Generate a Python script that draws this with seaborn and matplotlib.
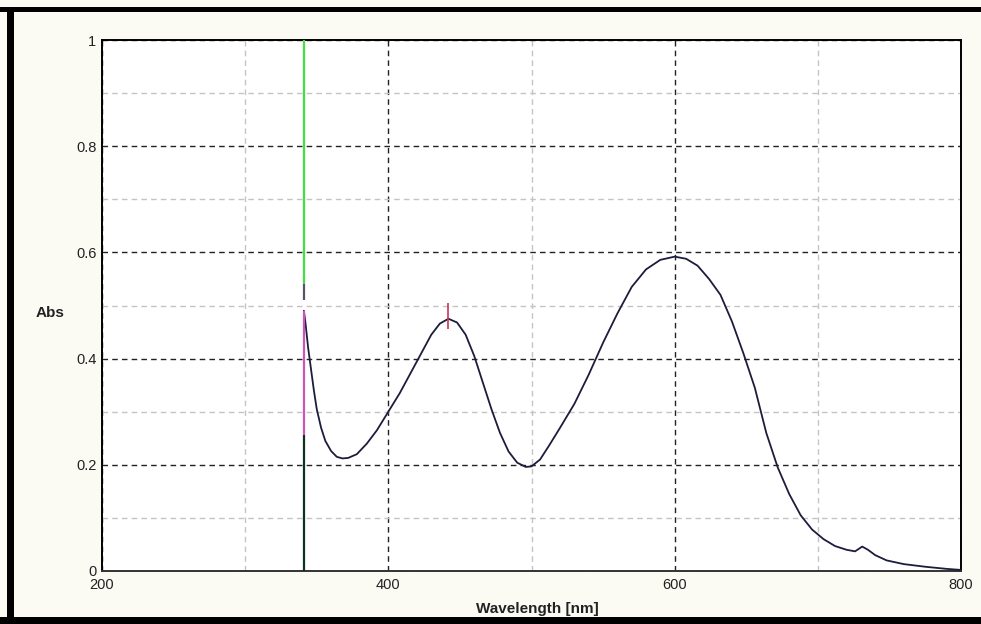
import numpy as np
import pandas as pd
import matplotlib
matplotlib.use("Agg")
import matplotlib.pyplot as plt
import seaborn as sns
from matplotlib.ticker import FixedLocator, FuncFormatter
from matplotlib.patches import Rectangle

# ---- data ----
wavelength = [341, 342, 344, 346, 348, 350, 353, 356, 360, 364, 368, 372, 378,
              385, 392, 400, 408, 416, 424, 430, 436, 442, 448, 454, 460, 466,
              472, 478, 484, 490, 496, 500, 506, 512, 520, 530, 540, 550, 560,
              570, 580, 590, 600, 608, 616, 624, 632, 640, 648, 656, 664, 672,
              680, 688, 696, 704, 712, 720, 726, 731, 735, 740, 748, 760, 775,
              790, 800]
absorbance = [0.49, 0.47, 0.42, 0.38, 0.34, 0.305, 0.27, 0.245, 0.226, 0.215,
              0.212, 0.213, 0.220, 0.240, 0.265, 0.30, 0.335, 0.375, 0.415,
              0.445, 0.466, 0.475, 0.468, 0.445, 0.405, 0.355, 0.305, 0.26,
              0.225, 0.204, 0.196, 0.197, 0.21, 0.235, 0.27, 0.315, 0.37, 0.43,
              0.485, 0.535, 0.568, 0.586, 0.592, 0.588, 0.575, 0.55, 0.52, 0.47,
              0.41, 0.345, 0.26, 0.195, 0.145, 0.105, 0.078, 0.06, 0.047, 0.04,
              0.037, 0.046, 0.04, 0.03, 0.02, 0.013, 0.008, 0.004, 0.002]

# cursor line at the start wavelength: segments (ymin, ymax, colour)
cursor_x = 341
cursor_ymin = [0.54, 0.51, 0.257, 0.0]
cursor_ymax = [1.0, 0.54, 0.49, 0.257]
cursor_colors = ["#44dd44", "#555566", "#cc55bb", "#0c3322"]

# peak marker
peak_x = 442
peak_ymin, peak_ymax = 0.455, 0.505

x_major = [200, 400, 600, 800]
x_minor = [300, 500, 700]
y_major = [0, 0.2, 0.4, 0.6, 0.8, 1.0]
y_minor = [0.1, 0.3, 0.5, 0.7, 0.9]

df = pd.DataFrame({"Wavelength": wavelength, "Abs": absorbance})

sns.set_theme(style="white")
plt.rcParams["font.family"] = ["Liberation Sans", "DejaVu Sans"]

W, H = 981, 624
fig = plt.figure(figsize=(W / 100, H / 100), dpi=100)
fig.patch.set_facecolor("#fbfbf4")

# black frame bands
fig.patches.append(Rectangle((0, 1 - 12 / H), 1, 5 / H, transform=fig.transFigure,
                             facecolor="black", edgecolor="none", zorder=0))
fig.patches.append(Rectangle((7 / W, 0), 7 / W, 1 - 7 / H, transform=fig.transFigure,
                             facecolor="black", edgecolor="none", zorder=0))
fig.patches.append(Rectangle((0, 0), 1, 7 / H, transform=fig.transFigure,
                             facecolor="black", edgecolor="none", zorder=0))

ax = fig.add_axes([102 / W, (H - 571) / H, (961 - 102) / W, (571 - 40) / H])
ax.set_facecolor("white")

sns.lineplot(data=df, x="Wavelength", y="Abs", ax=ax, color="#1c1c3c",
             linewidth=1.3, zorder=5, sort=False)

ax.vlines([cursor_x] * len(cursor_ymin), cursor_ymin, cursor_ymax,
          colors=cursor_colors, linewidth=1.6, zorder=6)
ax.vlines([peak_x], [peak_ymin], [peak_ymax], colors="#cc3355",
          linewidth=1.2, zorder=6)

ax.set_xlim(200, 800)
ax.set_ylim(0, 1)
ax.xaxis.set_major_locator(FixedLocator(x_major))
ax.xaxis.set_minor_locator(FixedLocator(x_minor))
ax.yaxis.set_major_locator(FixedLocator(y_major))
ax.yaxis.set_minor_locator(FixedLocator(y_minor))
ax.yaxis.set_major_formatter(FuncFormatter(lambda v, p: "0" if v == 0 else ("1" if v == 1 else f"{v:.1f}")))

ax.grid(which="major", color="#222222", linestyle=(0, (4, 3)), linewidth=1.0)
ax.grid(which="minor", color="#c4c4c4", linestyle=(0, (4, 3)), linewidth=1.0)
ax.set_axisbelow(True)

ax.tick_params(which="both", direction="in", length=4, width=1.2, color="black",
               labelsize=10.5, labelcolor="#222222")
ax.tick_params(axis="x", which="major", pad=5)
ax.tick_params(axis="y", which="major", pad=4)

for s in ax.spines.values():
    s.set_color("black")
    s.set_linewidth(1.4)
    s.set_visible(True)
ax.spines["bottom"].set_color("#333333")

ax.set_xlabel("")
ax.set_ylabel("")
fig.text(537 / W, 1 - 609 / H, "Wavelength [nm]", ha="center", va="center",
         fontsize=11, fontweight="bold", color="#222222")
fig.text(50 / W, 1 - 313 / H, "Abs", ha="center", va="center",
         fontsize=11, fontweight="bold", color="#222222")

fig.savefig("out.png", dpi=100, facecolor=fig.get_facecolor())
